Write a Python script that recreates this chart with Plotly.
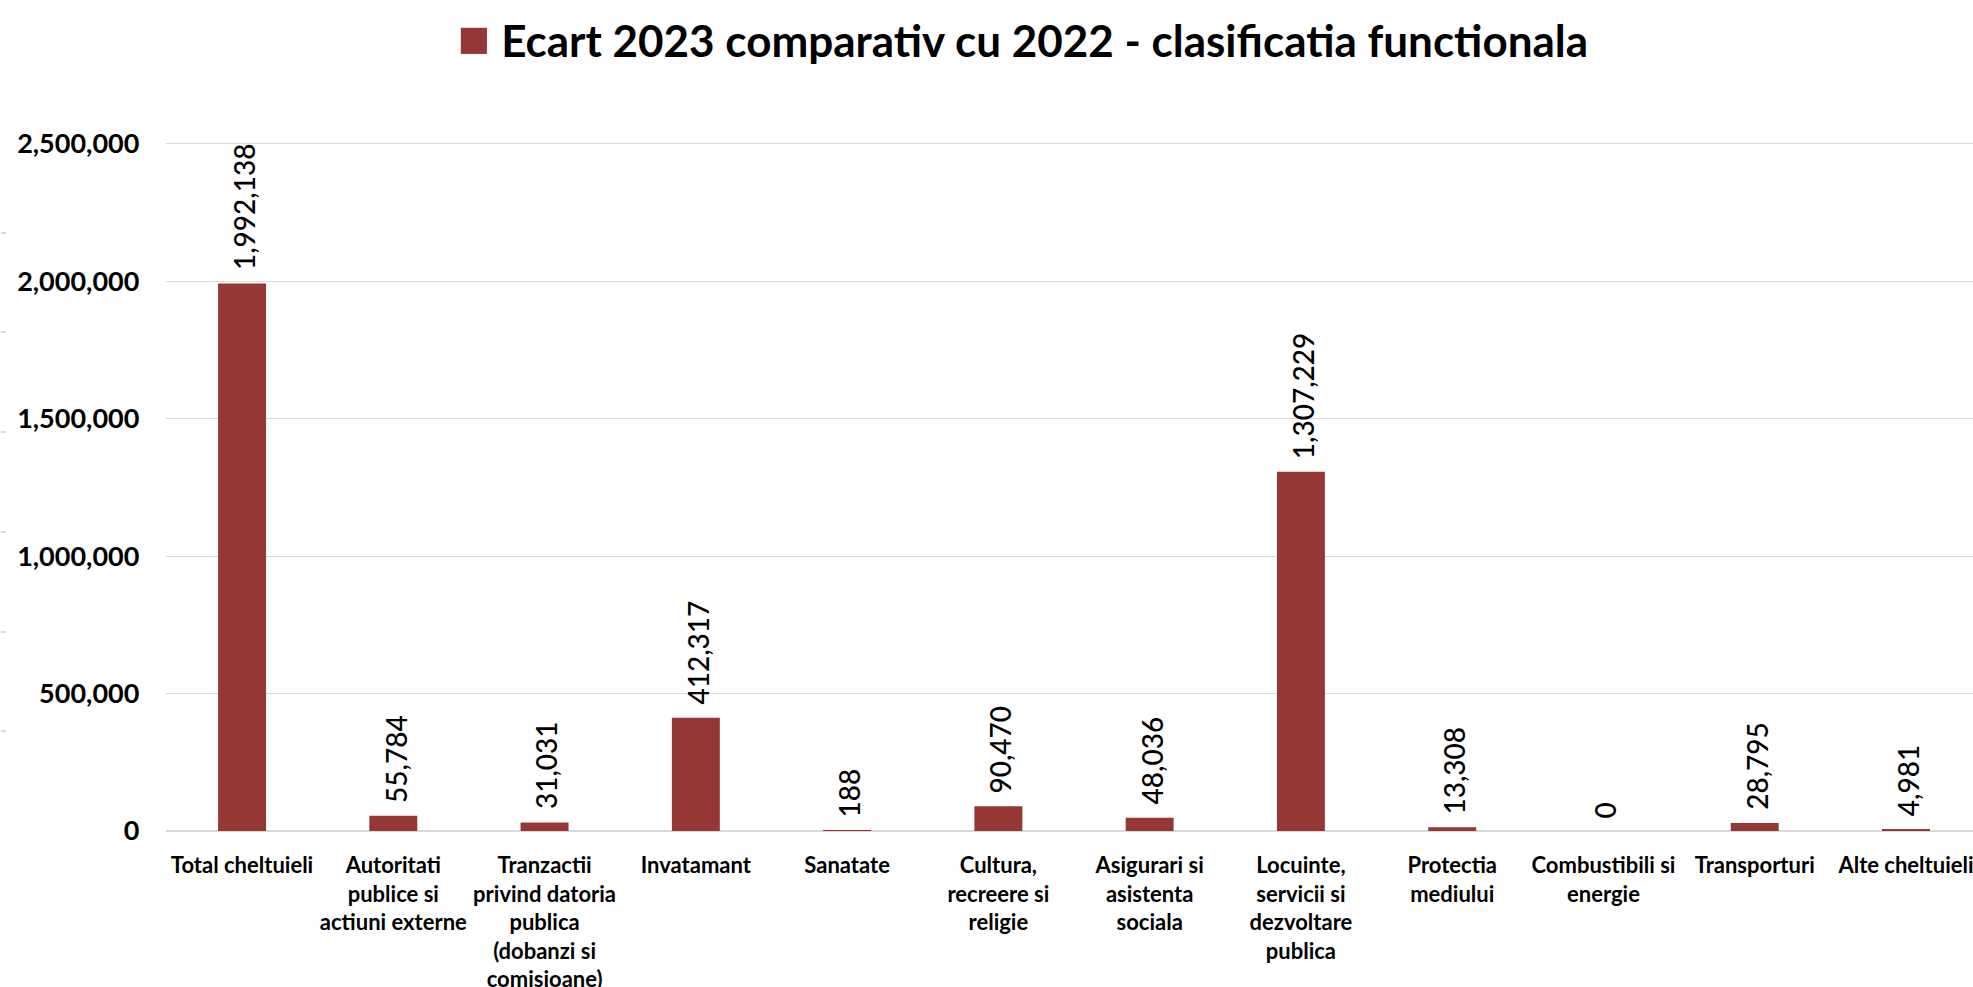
import plotly.graph_objects as go

# Categories (functional classification) and the 2023 vs 2022 differences
categories = [
    "Total cheltuieli",
    "Autoritati<br>publice si<br>actiuni externe",
    "Tranzactii<br>privind datoria<br>publica<br>(dobanzi si<br>comisioane)",
    "Invatamant",
    "Sanatate",
    "Cultura,<br>recreere si<br>religie",
    "Asigurari si<br>asistenta<br>sociala",
    "Locuinte,<br>servicii si<br>dezvoltare<br>publica",
    "Protectia<br>mediului",
    "Combustibili si<br>energie",
    "Transporturi",
    "Alte cheltuieli",
]
ecart_values = [1992138, 55784, 31031, 412317, 188, 90470, 48036, 1307229, 13308, 0, 28795, 4981]
y_ticks = [0, 500000, 1000000, 1500000, 2000000, 2500000]
series_name = "Ecart 2023 comparativ cu 2022 - clasificatia functionala"

BAR_COLOR = "#953735"
GRID_COLOR = "#d9d9d9"
FONT = "Lato"

W, H = 1973, 987
plot_left_px = 166.4
cat_px = 151.27
x_positions = list(range(len(categories)))

fig = go.Figure()
fig.add_trace(go.Bar(
    x=x_positions,
    y=ecart_values,
    name=series_name,
    marker=dict(color=BAR_COLOR, line=dict(width=0)),
    showlegend=False,
    hoverinfo="skip",
))

# Empty trace carrying the faint outer tick axis on the left edge
fig.add_trace(go.Scatter(x=[], y=[], yaxis="y2", showlegend=False, hoverinfo="skip"))

# Rotated value labels above each bar
for xi, v in zip(x_positions, ecart_values):
    fig.add_annotation(
        x=xi, y=v, xref="x", yref="y",
        text=f"{v:,}",
        textangle=-90,
        showarrow=False,
        xanchor="center", yanchor="bottom",
        yshift=11, xshift=2,
        font=dict(family=FONT, size=28, color="#000000", weight=500),
    )

x_end = -0.5 + (W - plot_left_px) / cat_px

fig.update_layout(
    width=W, height=H,
    paper_bgcolor="white",
    plot_bgcolor="white",
    margin=dict(l=0, r=0, t=133, b=156, pad=0, autoexpand=False),
    bargap=0.683,
    title=dict(
        text=(f'<span style="color:{BAR_COLOR};font-size:54px">■</span>'
              f' {series_name}'),
        x=1023 / W, xanchor="center", xref="paper",
        y=1 - 42 / H, yanchor="middle", yref="container",
        font=dict(family=FONT, size=44, color="#000000", weight="bold"),
    ),
    xaxis=dict(
        domain=[plot_left_px / W, 1],
        range=[-0.5, x_end],
        automargin=False,
        tickmode="array",
        tickvals=x_positions,
        ticktext=categories,
        tickangle=0,
        ticks="",
        showgrid=False,
        zeroline=False,
        showline=False,
        ticklabelstandoff=19,
        ticklabeloverflow="allow",
        tickfont=dict(family=FONT, size=22, color="#000000", weight="bold"),
    ),
    yaxis=dict(
        range=[0, 2540000],
        automargin=False,
        tickmode="array",
        tickvals=y_ticks,
        tickformat=",d",
        ticks="",
        showgrid=True,
        gridcolor=GRID_COLOR,
        gridwidth=1.3,
        zeroline=True,
        zerolinecolor=GRID_COLOR,
        zerolinewidth=1.6,
        showline=False,
        ticklabelstandoff=26,
        tickfont=dict(family=FONT, size=27, color="#000000", weight="bold"),
    ),
    yaxis2=dict(
        overlaying="y",
        anchor="free",
        position=0,
        side="left",
        automargin=False,
        range=[0, 7],
        tickmode="linear",
        tick0=0,
        dtick=1,
        ticks="inside",
        ticklen=5,
        tickwidth=2,
        tickcolor=GRID_COLOR,
        showticklabels=False,
        showgrid=False,
        zeroline=False,
        showline=False,
    ),
)

fig.write_html("out.html")
